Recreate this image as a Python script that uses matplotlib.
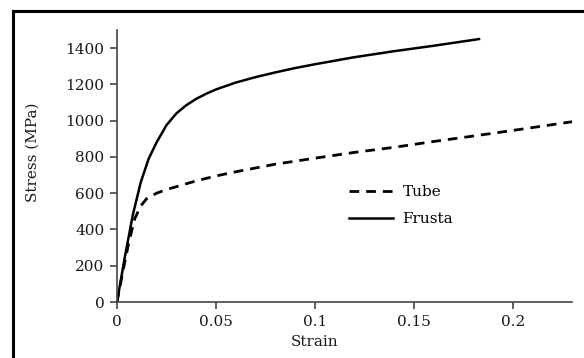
import matplotlib
matplotlib.use("Agg")
import matplotlib.pyplot as plt
from matplotlib.lines import Line2D

plt.rcParams['font.family'] = ['DejaVu Serif']
plt.rcParams['font.size'] = 11

# stress-strain curves
tube_strain = [0, 0.003, 0.006, 0.009, 0.012, 0.015, 0.02, 0.025, 0.03, 0.04,
               0.05, 0.06, 0.08, 0.1, 0.12, 0.14, 0.16, 0.18, 0.2, 0.23]
tube_stress = [0, 170, 330, 460, 530, 570, 600, 620, 636, 668,
               695, 718, 760, 793, 825, 853, 885, 915, 946, 994]

frusta_strain = [0, 0.004, 0.008, 0.012, 0.016, 0.02, 0.025, 0.03, 0.035, 0.04,
                 0.045, 0.05, 0.06, 0.07, 0.08, 0.09, 0.1, 0.12, 0.14, 0.16, 0.183]
frusta_stress = [0, 250, 480, 660, 790, 880, 975, 1040, 1085, 1120,
                 1148, 1172, 1210, 1240, 1266, 1290, 1311, 1350, 1383, 1413, 1450]

x_ticks = [0, 0.05, 0.1, 0.15, 0.2]
x_ticklabels = ['0', '0.05', '0.1', '0.15', '0.2']
y_ticks = [0, 200, 400, 600, 800, 1000, 1200, 1400]

fig = plt.figure(figsize=(5.84, 3.58), dpi=100)
ax = fig.add_axes([117 / 584, (358 - 302) / 358, 455 / 584, 272 / 358])

ax.plot(tube_strain, tube_stress, color='black', linestyle=(0, (3.5, 2.5)),
        linewidth=2, label='Tube')
ax.plot(frusta_strain, frusta_stress, color='black', linewidth=1.8, label='Frusta')

ax.set_xlim(0, 0.23)
ax.set_ylim(0, 1500)
ax.set_xticks(x_ticks)
ax.set_xticklabels(x_ticklabels)
ax.set_yticks(y_ticks)

for side in ['top', 'right']:
    ax.spines[side].set_visible(False)
for side in ['left', 'bottom']:
    ax.spines[side].set_color('#444444')
    ax.spines[side].set_linewidth(1.2)
ax.tick_params(direction='out', length=5, width=1.2, color='#444444',
               colors='#1a1a1a', labelsize=11, pad=4)

ax.set_ylabel('Stress (MPa)', color='#1a1a1a')
ax.yaxis.set_label_coords(-0.17, 0.55)
ax.text(0.1, -0.148, 'Strain', transform=ax.get_xaxis_transform(),
        ha='center', va='center', fontsize=11, color='#1a1a1a')

ax.legend(loc='upper left', bbox_to_anchor=(0.48, 0.48), frameon=False,
          handlelength=2.9, labelspacing=0.85, handletextpad=0.6,
          fontsize=11)

# frame around the figure (top and left edges visible)
fig.add_artist(Line2D([13 / 584, 1], [1 - 11 / 358, 1 - 11 / 358],
                      transform=fig.transFigure, color='black', linewidth=2.2))
fig.add_artist(Line2D([13 / 584, 13 / 584], [0, 1 - 11 / 358],
                      transform=fig.transFigure, color='black', linewidth=2.2))

fig.savefig('out.png', dpi=100)
